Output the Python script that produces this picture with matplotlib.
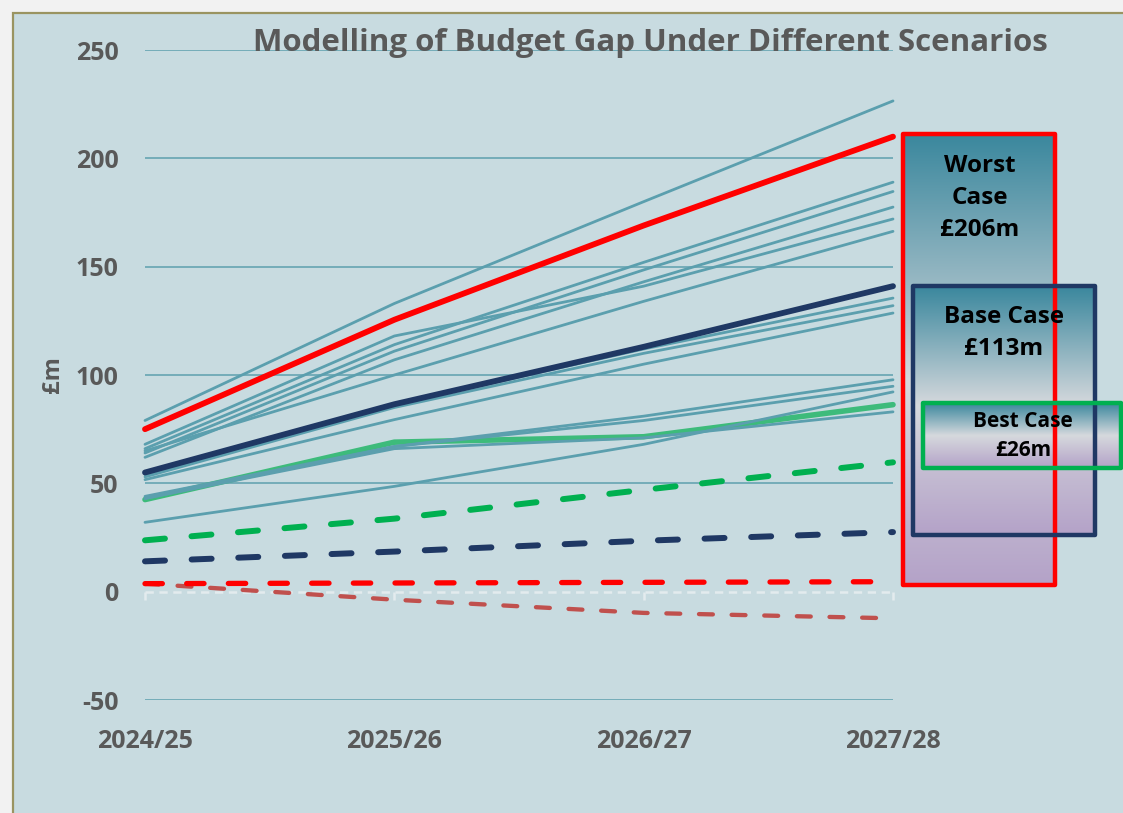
import numpy as np
import matplotlib
matplotlib.use("Agg")
import matplotlib.pyplot as plt
from matplotlib.patches import Rectangle
from matplotlib.colors import to_rgb

plt.rcParams['font.family'] = ['Open Sans', 'DejaVu Sans']
plt.rcParams['lines.scale_dashes'] = False

# data (£m)
years = ['2024/25', '2025/26', '2026/27', '2027/28']
worst_case = [75, 125.5, 169, 210]
base_case = [55, 86.5, 113, 141]
best_case = [42.5, 69, 71.5, 86.3]
best_dashed = [23.7, 33.7, 47, 59.7]
base_dashed = [14, 18.5, 23.5, 27.5]
worst_dashed = [3.7, 4.0, 4.3, 4.6]
worst_dashed_low = [3.7, -3.7, -9.8, -12.3]
other_scenarios = [
    [79, 133, 180, 226.5],
    [66, 114, 152, 189],
    [64, 111, 148.5, 184.7],
    [68, 118, 141, 172],
    [62, 107, 143, 177.5],
    [65, 100, 134, 166.3],
    [54, 86, 112, 135.5],
    [53, 85, 110, 132],
    [51.7, 79.4, 105, 128.6],
    [44, 67, 81, 97.8],
    [43, 67, 79, 94.8],
    [32, 48.6, 68, 92.2],
    [43, 66, 71, 83],
]
yticks = [-50, 0, 50, 100, 150, 200, 250]

W, H = 1123, 813
fig = plt.figure(figsize=(W / 100, H / 100), dpi=100)
fig.patch.set_facecolor('#f2f2f2')

# chart area background with olive border
bg = fig.add_axes([0, 0, 1, 1], zorder=-1)
bg.set_xlim(0, W)
bg.set_ylim(H, 0)
bg.axis('off')
bg.add_patch(Rectangle((13, 13), W + 10, H + 10, facecolor='#c8dbe0',
                       edgecolor='#9a9461', lw=1.6))

ax = fig.add_axes([145 / W, 1 - 700 / H, 748 / W, 650 / H])
ax.set_facecolor('none')
x = np.arange(len(years))
ax.set_xlim(0, 3)
ax.set_ylim(-50, 250)

grey = '#595959'
for v in yticks:
    if v != 0:
        ax.axhline(v, color='#5d9fae', lw=1.1, zorder=1)
# zero axis: light dashed line with small ticks
ax.plot([0, 3], [0, 0], color='#e3ebee', lw=1.8, dashes=(6, 4), zorder=1,
        clip_on=False)
ax.vlines(x, -3.8, 0, color='#e3ebee', lw=1.8, zorder=1, clip_on=False)

ax.plot(x, worst_dashed_low, color='#c0504d', lw=3.1, dashes=(10, 13.5),
        dash_capstyle='round', zorder=2, clip_on=False)
ax.plot(x, worst_dashed, color='#ff0000', lw=3.8, dashes=(12.5, 17.5),
        dash_capstyle='round', zorder=2, clip_on=False)
ax.plot(x, base_dashed, color='#1f3864', lw=4.3, dashes=(14.4, 19.2),
        dash_capstyle='round', zorder=2, clip_on=False)
ax.plot(x, best_dashed, color='#00b050', lw=4.3, dashes=(14.4, 19.2),
        dash_capstyle='round', zorder=2, clip_on=False)

ax.plot(x, best_case, color='#3dbb7b', lw=4, solid_capstyle='round',
        zorder=3, clip_on=False)
for s in other_scenarios:
    ax.plot(x, s, color='#5b9fae', lw=2, solid_capstyle='round',
            zorder=4, clip_on=False)
ax.plot(x, base_case, color='#1f3864', lw=4.2, solid_capstyle='round',
        zorder=5, clip_on=False)
ax.plot(x, worst_case, color='#ff0000', lw=4.2, solid_capstyle='round',
        zorder=6, clip_on=False)

for sp in ax.spines.values():
    sp.set_visible(False)
ax.set_yticks(yticks)
ax.set_yticklabels([str(v) for v in yticks], fontsize=18, fontweight='bold',
                   color=grey)
ax.set_xticks(x)
ax.set_xticklabels(years, fontsize=18, fontweight='bold', color=grey)
ax.tick_params(axis='y', length=0, pad=19)
ax.tick_params(axis='x', length=0, pad=21)
ax.set_ylabel('£m', fontsize=17, fontweight='bold', color=grey)
ax.yaxis.set_label_coords(-0.107, 0.5)

fig.text(650 / W, 1 - 43 / H, 'Modelling of Budget Gap Under Different Scenarios',
         ha='center', va='center', fontsize=22.5, fontweight='bold', color=grey,
         zorder=10)

# scenario boxes on the right
ov = fig.add_axes([0, 0, 1, 1], zorder=5)
ov.set_xlim(0, W)
ov.set_ylim(H, 0)
ov.axis('off')

teal, mid, lav = '#3a879d', '#d6d9dd', '#b4a2c8'


def grad_box(x0, y0, x1, y1, mid_pos, edge):
    n = 200
    t = np.linspace(0, 1, n)
    c0, c1, c2 = (np.array(to_rgb(c)) for c in (teal, mid, lav))
    img = np.empty((n, 1, 3))
    for i, v in enumerate(t):
        if v < mid_pos:
            f = v / mid_pos
            img[i, 0] = c0 + (c1 - c0) * f
        else:
            f = (v - mid_pos) / (1 - mid_pos)
            img[i, 0] = c1 + (c2 - c1) * f
    ov.imshow(img, extent=(x0, x1, y1, y0), aspect='auto', interpolation='bilinear')
    ov.add_patch(Rectangle((x0, y0), x1 - x0, y1 - y0, fill=False,
                           edgecolor=edge, lw=3.2, joinstyle='round'))


grad_box(903, 134, 1055, 585, 0.55, '#ff0000')
ov.text(980, 198, 'Worst\nCase\n£206m', ha='center', va='center', fontsize=17.5,
        fontweight='bold', color='black', linespacing=1.45)
grad_box(913, 286, 1095, 535, 0.48, '#1f3864')
ov.text(1004, 333, 'Base Case\n£113m', ha='center', va='center', fontsize=17.5,
        fontweight='bold', color='black', linespacing=1.45)
grad_box(923, 403, 1121, 468, 0.5, '#00b050')
ov.text(1023, 436, 'Best Case\n£26m', ha='center', va='center', fontsize=15,
        fontweight='bold', color='black', linespacing=1.45)
ov.set_xlim(0, W)
ov.set_ylim(H, 0)

fig.savefig('out.png', dpi=100, facecolor=fig.get_facecolor())
